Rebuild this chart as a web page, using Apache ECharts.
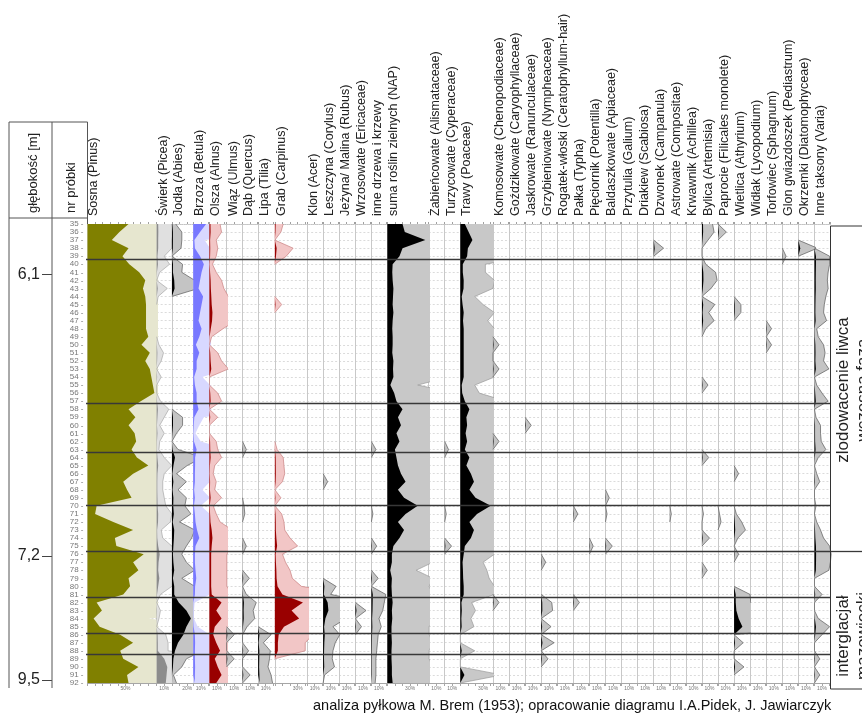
<!DOCTYPE html>
<html>
<head>
<meta charset="utf-8">
<script src="https://cdn.jsdelivr.net/npm/echarts@6/dist/echarts.min.js"></script>
<style>
  html, body { margin: 0; padding: 0; background: #fff; }
  #chart { width: 862px; height: 717px; }
</style>
</head>
<body>
<div id="chart"></div>
<script>
// Sample numbers (rows of the profile, top to bottom)
const samples = ['35','36','37','38','39','40','41','42','43','44',
  '45','46','47','48','49','50','51','52','53','54',
  '55','56','57','58','59','60','61','62','63','64',
  '65','66','67','68','69','70','71','72','73','74',
  '75','76','77','78','79','80','81','82','83','84',
  '85','86','87','88','89','90','91','92'];

// Pollen percentages, one value per sample (35 ... 92)
const pinus = [
  54, 42, 32, 54, 46, 55, 68, 76, 73, 76,
  77, 77, 77, 77, 80, 71, 82, 76, 82, 84,
  86, 88, 70, 54, 63, 54, 62, 64, 58, 65,
  80, 60, 47, 52, 58, 12, 10, 34, 60, 36,
  38, 74, 60, 67, 54, 56, 47, 12, 19, 8,
  16, 43, 60, 43, 47, 67, 52, 54];
const picea = [
  2, 2.2, 2, 2, 1, 1.7, 0.4, 0, 1.4, 0.2,
  0, 0, 0, 0, 0, 0.3, 0.9, 0.6, 0, 0.6,
  0, 0, 0.5, 1.6, 1, 0.4, 1, 0.4, 0.3, 1,
  2, 1, 0.8, 0.8, 1, 1.2, 2, 1.8, 0.6, 0.8,
  2, 4, 2.5, 2, 3.5, 2, 0.5, 0, 0.5, 0.3,
  0, 1.2, 1.5, 1.5, 10, 14, 13, 12];
const abies = [
  0.5, 1.3, 1.3, 1.2, 0, 1.4, 1.3, 3, 3.5, 0,
  0, 0, 0, 0, 0, 0, 0, 0, 0, 0,
  0, 0, 0, 0, 1.4, 1.4, 0.6, 0, 0.8, 4,
  2, 0.6, 1.9, 0.8, 1.9, 1.7, 2.5, 1, 3, 2.6,
  1.9, 1.3, 1.9, 3, 1.3, 3, 3, 9, 19, 25,
  19, 15, 8, 4, 1.9, 1.3, 0.2, 0.6];
const betula = [
  17, 9, 1.5, 2.2, 9, 14, 11, 9, 7, 13,
  11, 9, 7, 11, 8, 3.5, 8, 4.5, 4.5, 1.2,
  2.2, 4.5, 4.5, 7, 1.4, 0.8, 0.3, 1, 4.5, 2.5,
  2.5, 2.2, 2.2, 1.2, 2.2, 1, 2.2, 3, 5, 8,
  3, 2.2, 2.2, 3, 4, 2.5, 2.2, 0.2, 0.1, 0.1,
  0.6, 2.2, 2.5, 2.2, 2.2, 2.5, 2.2, 2.2];
const alnus = [
  1.4, 1.6, 0.9, 1.1, 0.9, 0.4, 0.9, 1.6, 1.9, 2.5,
  3, 4, 3.5, 1.8, 0.3, 0, 1.1, 1.6, 2.5, 0,
  0, 1.1, 1.6, 0, 1.1, 0, 0, 0.9, 1.1, 1.6,
  0.7, 0.5, 0.9, 0.7, 1.6, 0.5, 0.9, 1.4, 3, 4,
  3, 2.3, 2.3, 2.3, 2.3, 2.3, 3, 16, 9, 16,
  7, 5, 9, 14, 7, 11, 16, 9];
const nap = [
  20, 23, 50, 20, 16, 7, 6.5, 7, 8, 7.5,
  7, 8, 7, 6.5, 7, 7, 6.5, 8, 7.5, 8,
  4, 9, 12, 20, 14, 18, 12, 16, 10, 12,
  14, 18, 24, 14, 22, 40, 24, 14, 22, 16,
  8, 6, 6, 3.8, 6, 5.5, 6, 7, 6, 6.5,
  5.5, 5.5, 6, 5.5, 5.5, 6, 6, 7];
const poaceae = [
  6, 11, 16, 10, 9, 3.3, 3.3, 4.5, 4.3, 1.9,
  3, 4.5, 3.6, 4.5, 4.5, 4.5, 4.5, 4.5, 4.5, 4.5,
  1.9, 2.5, 6, 12, 8, 9, 7, 9, 6, 12,
  8, 14, 18, 12, 20, 40, 22, 12, 18, 14,
  6, 4.5, 3, 3.5, 3.8, 4.5, 4.5, 1.5, 2, 1.4,
  1.8, 0, 0, 1.9, 0, 0, 5.5, 0];
const varia = [
  0, 0, 0, 0, 2, 2, 1.8, 1.7, 1.8, 1.5,
  1.3, 1.2, 1.6, 0.3, 0.5, 1.2, 1.4, 1.2, 1.9, 0,
  0.3, 1.0, 1.8, 0, 0.2, 0.8, 0.8, 0.9, 1.5, 0.5,
  0, 0.3, 0.7, 0, 0, 0.2, 0, 0.3, 0.8, 1.2,
  2, 2.2, 2.1, 1.9, 0, 0, 1.0, 0, 0, 0.5,
  2, 1, 0, 0, 0.7, 0, 0.7, 0];

// Rare taxa: [sample, percent] for the samples where they occur
const ulmus = [[86, 1], [89, 1]];
const quercus = [[63, 0.5], [70, 0.2], [71, 0.3], [75, 0.5], [79, 0.9], [81, 0.5], [82, 1.8], [83, 1.4], [84, 1.6], [85, 0.6], [88, 0.8], [91, 1]];
const tilia = [[86, 1.7], [87, 0.7], [88, 1.6], [89, 1.5], [90, 1.3], [91, 1.7], [92, 1.9]];
const carpinus = [[35, 1.1], [36, 0.8], [38, 2.4], [39, 1.5], [45, 0.9], [63, 0.3], [64, 1.1], [65, 1.2], [66, 1.3], [67, 1], [69, 0.8],
  [71, 0.9], [72, 1.2], [73, 1.3], [74, 2], [75, 3], [76, 1], [77, 1.4], [78, 2], [79, 2.3], [80, 3.5], [81, 10], [82, 37], [83, 22],
  [84, 32], [85, 12], [86, 5], [87, 4], [88, 4]];
const acer = [];
const corylus = [[67, 0.6], [80, 1.7], [81, 1], [82, 6], [83, 7], [84, 3], [85, 1.3], [86, 2.2], [87, 1.6], [88, 1.3], [89, 1.2], [90, 1.5], [91, 0.2]];
const rubus = [];
const ericaceae = [[83, 1.4], [85, 0.8]];
const otherTrees = [[63, 0.6], [71, 0.2], [75, 0.7], [79, 0.9], [81, 1.9], [82, 1.7], [83, 1.5], [84, 1], [85, 1.3], [86, 0.9], [87, 0.8],
  [88, 0.7], [89, 0.6], [90, 0.6], [91, 0.6], [92, 0.5]];
const alismataceae = [];
const cyperaceae = [[63, 0.5], [71, 0.2], [75, 0.9]];
const chenopodiaceae = [[50, 0.8], [53, 0.8], [62, 0.8], [82, 0.8]];
const caryophyllaceae = [];
const ranunculaceae = [[60, 0.8]];
const nymphaeaceae = [[77, 0.6], [82, 1.4], [83, 1.5], [85, 1.3], [87, 1.7], [89, 0.9]];
const ceratophyllum = [];
const typha = [[71, 0.6], [82, 0.8]];
const potentilla = [[75, 0.5]];
const apiaceae = [[69, 0.5], [71, 0.2], [75, 0.9]];
const galium = [];
const scabiosa = [];
const campanula = [[38, 1.3]];
const compositae = [[71, 0.2]];
const achillea = [];
const artemisia = [[35, 1.4], [36, 1.6], [37, 0.8], [40, 0.5], [41, 1.8], [42, 2], [43, 1.2], [45, 1.7], [46, 0.9], [47, 1.6], [48, 0.5],
  [55, 0.8], [64, 0.9], [71, 0.2], [74, 1], [78, 0.7]];
const filicales = [[36, 1.1], [71, 0.2], [72, 0.4]];
const athyrium = [[45, 0.9], [46, 0.9], [66, 0.6], [71, 0.3], [72, 1], [73, 1.5], [74, 0.5], [76, 0.6], [81, 2.1], [82, 2.2], [83, 3],
  [84, 6], [85, 11], [87, 1.2], [90, 1.3]];
const lycopodium = [];
const sphagnum = [[48, 0.7], [50, 0.7]];
const pediastrum = [[39, 0.5]];
const diatoms = [[38, 2.5]];

// Zone boundaries (in sample units) and depth marks
const zoneBounds = [39.4, 57.2, 63.3, 69.9, 75.65, 81.35, 85.85, 88.4];
const phaseBound = [75.65];
const depthAt = [41.3, 76.2, 91.6];
const depthText = ['6,1', '7,2', '9,5'];

// ---- layout & drawing ----
const FONT = '"Liberation Sans", Arial, sans-serif';
const PX = 0.76;          // pixels per percent
const EXAG = 10;          // exaggeration factor for the light curves
const TOP = 224, PLOT_H = 459, START_X = 87.5;

function expand(pairs) {
  const row = samples.map(() => 0);
  pairs.forEach(([s, v]) => { row[samples.indexOf(String(s))] = v; });
  return row;
}
// Drop zero runs so outlines are not drawn along the baseline
function trimZeros(vals) {
  return vals.map((v, i) => {
    if (v !== 0) return v;
    const p = i > 0 ? vals[i - 1] : 0, n = i < vals.length - 1 ? vals[i + 1] : 0;
    return (p === 0 && n === 0) ? null : 0;
  });
}

const LOOKS = {
  pinus:  { dark: '#808000', light: '#e6e6cf', edge: null },
  picea:  { dark: '#8c8c8c', light: '#e0e0e0', edge: '#a8a8a8' },
  tree:   { dark: '#000000', light: '#c4c4c4', edge: '#5a5a5a' },
  betula: { dark: '#7878ff', light: '#d8d8ff', edge: null },
  red:    { dark: '#990000', light: '#f2c6c6', edge: '#c98080' },
  herb:   { dark: '#000000', light: '#c8c8c8', edge: '#9a9a9a' }
};

const SMALL = 21.15;
const columns = [
  { label: 'Sosna (Pinus)', values: pinus, max: 91, tick: 50, look: 'pinus' },
  { label: 'Świerk (Picea)', values: picea, max: 20.1, tick: 10, look: 'picea' },
  { label: 'Jodła (Abies)', values: abies, max: 28, tick: 20, look: 'tree' },
  { label: 'Brzoza (Betula)', values: betula, max: 21.3, tick: 10, look: 'betula' },
  { label: 'Olsza (Alnus)', values: alnus, max: 22.6, tick: 10, look: 'red' },
  { label: 'Wiąz (Ulmus)', values: expand(ulmus), max: 21, tick: 10, look: 'tree' },
  { label: 'Dąb (Quercus)', values: expand(quercus), max: 20.5, tick: 10, look: 'tree' },
  { label: 'Lipa (Tilia)', values: expand(tilia), max: 22, tick: 10, look: 'tree' },
  { label: 'Grab (Carpinus)', values: expand(carpinus), max: 42.5, tick: 30, look: 'red' },
  { label: 'Klon (Acer)', values: expand(acer), max: 21, tick: 10, look: 'tree' },
  { label: 'Leszczyna (Corylus)', values: expand(corylus), max: 21, tick: 10, look: 'tree' },
  { label: 'Jeżyna/ Malina (Rubus)', values: expand(rubus), max: 21.5, tick: 10, look: 'tree' },
  { label: 'Wrzosowate (Ericaceae)', values: expand(ericaceae), max: 21, tick: 10, look: 'tree' },
  { label: 'inne drzewa i krzewy', values: expand(otherTrees), max: 21, tick: 10, look: 'tree' },
  { label: 'suma roślin zielnych (NAP)', values: nap, max: 54.5, tick: 30, look: 'herb' },
  { label: 'Żabieńcowate (Alismataceae)', values: expand(alismataceae), max: 21, tick: 10, look: 'tree' },
  { label: 'Turzycowate (Cyperaceae)', values: expand(cyperaceae), max: 20.5, tick: 10, look: 'tree' },
  { label: 'Trawy (Poaceae)', values: poaceae, max: 43, tick: 30, look: 'herb' },
  { label: 'Komosowate (Chenopodiaceae)', values: expand(chenopodiaceae), max: SMALL, tick: 10, look: 'tree' },
  { label: 'Goździkowate (Caryophyllaceae)', values: expand(caryophyllaceae), max: SMALL, tick: 10, look: 'tree' },
  { label: 'Jaskrowate (Ranunculaceae)', values: expand(ranunculaceae), max: SMALL, tick: 10, look: 'tree' },
  { label: 'Grzybieniowate (Nympheaceae)', values: expand(nymphaeaceae), max: SMALL, tick: 10, look: 'tree' },
  { label: 'Rogatek-włoski (Ceratophyllum-hair)', values: expand(ceratophyllum), max: SMALL, tick: 10, look: 'tree' },
  { label: 'Pałka (Typha)', values: expand(typha), max: SMALL, tick: 10, look: 'tree' },
  { label: 'Pięciornik (Potentilla)', values: expand(potentilla), max: SMALL, tick: 10, look: 'tree' },
  { label: 'Baldaszkowate (Apiaceae)', values: expand(apiaceae), max: SMALL, tick: 10, look: 'tree' },
  { label: 'Przytulia (Galium)', values: expand(galium), max: SMALL, tick: 10, look: 'tree' },
  { label: 'Driakiew (Scabiosa)', values: expand(scabiosa), max: SMALL, tick: 10, look: 'tree' },
  { label: 'Dzwonek (Campanula)', values: expand(campanula), max: SMALL, tick: 10, look: 'tree' },
  { label: 'Astrowate (Compositae)', values: expand(compositae), max: SMALL, tick: 10, look: 'tree' },
  { label: 'Krwawnik (Achillea)', values: expand(achillea), max: SMALL, tick: 10, look: 'tree' },
  { label: 'Bylica (Artemisia)', values: expand(artemisia), max: SMALL, tick: 10, look: 'tree' },
  { label: 'Paprocie (Filicales monolete)', values: expand(filicales), max: SMALL, tick: 10, look: 'tree' },
  { label: 'Wietlica (Athyrium)', values: expand(athyrium), max: SMALL, tick: 10, look: 'tree' },
  { label: 'Widłak (Lycopodium)', values: expand(lycopodium), max: SMALL, tick: 10, look: 'tree' },
  { label: 'Torfowiec (Sphagnum)', values: expand(sphagnum), max: SMALL, tick: 10, look: 'tree' },
  { label: 'Glon gwiazdoszek (Pediastrum)', values: expand(pediastrum), max: SMALL, tick: 10, look: 'tree' },
  { label: 'Okrzemki (Diatomophyceae)', values: expand(diatoms), max: SMALL, tick: 10, look: 'tree' },
  { label: 'Inne taksony (Varia)', values: varia, max: SMALL, tick: 10, look: 'tree' }
];

const grid = [], xAxis = [], yAxis = [], series = [], graphics = [];
let x = START_X;

columns.forEach((col, i) => {
  const w = col.max * PX;
  const look = LOOKS[col.look];
  grid.push({ left: x, top: TOP, width: w, height: PLOT_H });
  // percentage scale (bottom)
  xAxis.push({
    gridIndex: i, type: 'value', min: 0, max: col.max, interval: 10, position: 'bottom',
    axisLine: { show: true, onZero: false, lineStyle: { color: '#a6a6a6', width: 1 } },
    axisTick: { show: true, length: 3, lineStyle: { color: '#a6a6a6' } },
    axisLabel: { fontSize: 5, color: '#777', margin: 3, fontFamily: FONT,
      formatter: v => (v === col.tick ? v + '%' : '') },
    splitLine: { show: false }
  });
  // exaggerated scale (top)
  xAxis.push({
    gridIndex: i, type: 'value', min: 0, max: col.max / EXAG, interval: 1, position: 'top',
    axisLine: { show: true, onZero: false, lineStyle: { color: '#c4c4c4', type: 'dotted' } },
    axisTick: { show: true, length: 2, lineStyle: { color: '#a0a0a0' } },
    axisLabel: { show: false }, splitLine: { show: false }
  });
  yAxis.push({
    gridIndex: i, type: 'category', data: samples, inverse: true, boundaryGap: false,
    axisLine: { show: true, lineStyle: { color: '#c8c8c8', width: 1 } },
    axisTick: { show: false },
    axisLabel: i === 0
      ? { show: true, interval: 0, fontSize: 8, color: '#777', margin: 4, fontFamily: FONT, formatter: v => v + ' -' }
      : { show: false },
    splitLine: { show: true, interval: 0, lineStyle: { color: '#d2d2d2', type: [2, 2], width: 0.8 } }
  });
  const data = trimZeros(col.values);
  series.push({
    type: 'line', xAxisIndex: 2 * i + 1, yAxisIndex: i, data, symbol: 'none', showSymbol: false,
    clip: true, silent: true, z: 2,
    lineStyle: look.edge ? { color: look.edge, width: 0.7 } : { width: 0, opacity: 0 },
    areaStyle: { color: look.light, opacity: 1 }
  });
  series.push({
    type: 'line', xAxisIndex: 2 * i, yAxisIndex: i, data, symbol: 'none', showSymbol: false,
    clip: true, silent: true, z: 3,
    lineStyle: { width: 0, opacity: 0 },
    areaStyle: { color: look.dark, opacity: 1 }
  });
  graphics.push({
    type: 'text', x: x + 6.5, y: 216, rotation: Math.PI / 2, z: 20,
    style: { text: col.label, font: '12.5px ' + FONT, fill: '#222', align: 'left', verticalAlign: 'middle' }
  });
  x += w;
});

const RIGHT_X = x;

// overlay grid: zone boundary lines across the diagram
function overlay(left, width, bounds) {
  const gi = grid.length;
  grid.push({ left, top: TOP, width, height: PLOT_H });
  xAxis.push({ gridIndex: gi, type: 'value', min: 0, max: 1, show: false });
  yAxis.push({ gridIndex: gi, type: 'value', min: 35, max: 92, inverse: true, show: false });
  series.push({
    type: 'line', xAxisIndex: xAxis.length - 1, yAxisIndex: yAxis.length - 1,
    data: [], symbol: 'none', silent: true, z: 10,
    markLine: {
      symbol: ['none', 'none'], silent: true, animation: false,
      label: { show: false },
      lineStyle: { color: '#383838', width: 1.3, type: 'solid' },
      data: bounds.map(v => ({ yAxis: v }))
    }
  });
}
overlay(86, RIGHT_X - 86, zoneBounds);
overlay(RIGHT_X, 40, phaseBound);

// depth scale
{
  const gi = grid.length;
  grid.push({ left: 52, top: TOP, width: 20, height: PLOT_H });
  xAxis.push({ gridIndex: gi, type: 'value', min: 0, max: 1, show: false });
  yAxis.push({
    gridIndex: gi, type: 'value', min: 35, max: 92, inverse: true, position: 'left',
    axisLine: { show: false }, splitLine: { show: false },
    axisTick: { show: true, length: 10, customValues: depthAt, lineStyle: { color: '#444', width: 1 } },
    axisLabel: { show: true, customValues: depthAt, margin: 12, fontSize: 16, color: '#222', fontFamily: FONT,
      formatter: v => depthText[depthAt.indexOf(v)] }
  });
}

// header frame
const frame = [
  [9, 122, 9, 688], [9, 122, START_X, 122], [52, 122, 52, 688],
  [START_X, 122, START_X, TOP], [9, 218, START_X, 218]
];
frame.forEach(([x1, y1, x2, y2]) => graphics.push({
  type: 'line', z: 20, shape: { x1, y1, x2, y2 }, style: { stroke: '#555', lineWidth: 1 }
}));
graphics.push({
  type: 'text', x: 33, y: 213, rotation: Math.PI / 2, z: 20,
  style: { text: 'głębokość [m]', font: '13px ' + FONT, fill: '#222', align: 'left', verticalAlign: 'middle' }
});
graphics.push({
  type: 'text', x: 71, y: 213, rotation: Math.PI / 2, z: 20,
  style: { text: 'nr próbki', font: '13px ' + FONT, fill: '#222', align: 'left', verticalAlign: 'middle' }
});

// stratigraphic box on the right
graphics.push({
  type: 'rect', z: 20, shape: { x: RIGHT_X, y: 226, width: 60, height: 463 },
  style: { fill: 'none', stroke: '#333', lineWidth: 1 }
});
graphics.push({
  type: 'text', x: RIGHT_X + 3, y: 390, rotation: Math.PI / 2, z: 20,
  style: { text: 'zlodowacenie liwca\nwczesna faza', font: '17px ' + FONT, fill: '#222',
    align: 'center', verticalAlign: 'top', lineHeight: 20 }
});
graphics.push({
  type: 'text', x: RIGHT_X + 3, y: 636, rotation: Math.PI / 2, z: 20,
  style: { text: 'interglacjał\nmazowiecki', font: '17px ' + FONT, fill: '#222',
    align: 'center', verticalAlign: 'top', lineHeight: 20 }
});

// credits
graphics.push({
  type: 'text', x: 313, y: 706, z: 20,
  style: { text: 'analiza pyłkowa M. Brem (1953); opracowanie diagramu I.A.Pidek, J. Jawiarczyk',
    font: '14.5px ' + FONT, fill: '#111', align: 'left', verticalAlign: 'middle' }
});

const chart = echarts.init(document.getElementById('chart'), null, { renderer: 'canvas' });
chart.setOption({
  animation: false,
  backgroundColor: '#ffffff',
  grid, xAxis, yAxis, series,
  graphic: { elements: graphics }
});
</script>
</body>
</html>
